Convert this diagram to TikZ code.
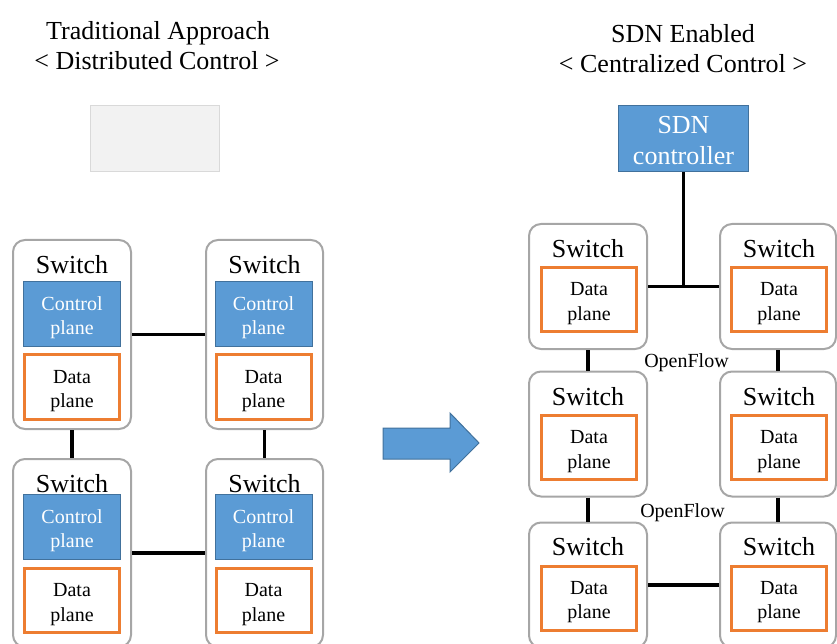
\documentclass[tikz,border=0pt]{standalone}
\usepackage{fontspec}
\setmainfont{Liberation Serif}
\definecolor{sdnblue}{HTML}{5B9BD5}
\definecolor{sdnedge}{HTML}{41719C}
\definecolor{dporange}{HTML}{ED7D31}
\definecolor{swgray}{HTML}{A6A6A6}
\definecolor{holdfill}{HTML}{F2F2F2}
\definecolor{holdedge}{HTML}{D9D9D9}
% two lines, first one set a little lower in its box
\newcommand{\twoline}[3][21.5pt]{\rule{0pt}{#1}#2\\#3}
\begin{document}
\begin{tikzpicture}[x=1pt,y=-1pt,
    switchbox/.style={draw=swgray,line width=2pt,rounded corners=12pt,minimum width=118pt},
    ctrlbox/.style={draw=sdnedge,fill=sdnblue,line width=1pt,text=white,align=center},
    databox/.style={draw=dporange,fill=white,line width=3pt,align=center,minimum width=95pt},
    bigtext/.style={font=\fontsize{26}{30}\selectfont},
    smalltext/.style={font=\fontsize{20}{24.5}\selectfont}]

        \clip (0,0) rectangle (837,644);

        % headings
        \begin{scope}[every node/.style={bigtext,anchor=base}]
          \node (trad)  at (158,39.5) {Traditional Approach};
          \node (dist)  at (157,69.5) {< Distributed Control >};
          \node (sdn)   at (683,42.5) {SDN Enabled};
          \node (cent)  at (683,72.5) {< Centralized Control >};
        \end{scope}

        \node[draw=holdedge,fill=holdfill,line width=1pt,minimum width=129pt,minimum height=66pt] (blank) at (155,138.5) {};
        \node[ctrlbox,bigtext,font=\fontsize{26}{31}\selectfont,minimum width=130pt,minimum height=66pt] (ctrl) at (683.5,138.5) {\twoline[21pt]{SDN}{controller}};

        % switches, distributed
        \begin{scope}[every node/.style={switchbox}]
          \node[minimum height=189pt] (a1) at (72,334.5)   {};
          \node[minimum height=189pt,minimum width=117pt] (a2) at (264.5,334.5) {};
          \node[minimum height=188pt] (a3) at (72,553)     {};
          \node[minimum height=188pt,minimum width=117pt] (a4) at (264.5,553)   {};
        \end{scope}

        % switches, centralized
        \begin{scope}[every node/.style={switchbox,minimum height=125pt}]
          \node (b1) at (588,286.5) {};
          \node[minimum width=116pt] (b2) at (778,286.5) {};
          \node (b3) at (588,434)   {};
          \node[minimum width=116pt] (b4) at (778,434)   {};
          \node (b5) at (588,585)   {};
          \node[minimum width=116pt] (b6) at (778,585)   {};
        \end{scope}

        \begin{scope}[every node/.style={bigtext,anchor=base}]
          \node (la1) at (72,273)    {Switch};
          \node (la2) at (264.5,273) {Switch};
          \node (la3) at (72,492)    {Switch};
          \node (la4) at (264.5,492) {Switch};
          \node (lb1) at (588,257)   {Switch};
          \node (lb2) at (779,257)   {Switch};
          \node (lb3) at (588,405)   {Switch};
          \node (lb4) at (779,405)   {Switch};
          \node (lb5) at (588,555)   {Switch};
          \node (lb6) at (779,555)   {Switch};
        \end{scope}

        \begin{scope}[every node/.style={ctrlbox,smalltext,font=\fontsize{20}{24}\selectfont,minimum width=97pt,minimum height=65pt}]
          \node (ca1) at (72,314)    {\twoline{Control}{plane}};
          \node (ca2) at (263.5,314) {\twoline{Control}{plane}};
          \node (ca3) at (72,527)    {\twoline{Control}{plane}};
          \node (ca4) at (263.5,527) {\twoline{Control}{plane}};
        \end{scope}

        \begin{scope}[every node/.style={databox,smalltext}]
          \node[minimum height=65pt] (da1) at (72,387)      {\twoline{Data}{plane}};
          \node[minimum height=65pt] (da2) at (263.5,387)   {\twoline{Data}{plane}};
          \node[minimum height=64pt] (da3) at (72,600.5)    {\twoline{Data}{plane}};
          \node[minimum height=64pt] (da4) at (263.5,600.5) {\twoline{Data}{plane}};
          \node[minimum height=64pt] (db1) at (589,299.5)   {\twoline{Data}{plane}};
          \node[minimum height=64pt] (db2) at (779,299.5)   {\twoline{Data}{plane}};
          \node[minimum height=64pt] (db3) at (589,447.5)   {\twoline{Data}{plane}};
          \node[minimum height=64pt] (db4) at (779,447.5)   {\twoline{Data}{plane}};
          \node[minimum height=64pt] (db5) at (589,598)     {\twoline{Data}{plane}};
          \node[minimum height=64pt] (db6) at (779,598)     {\twoline{Data}{plane}};
        \end{scope}

        \begin{scope}[every node/.style={smalltext,anchor=base}]
          \node (of1) at (686.5,367) {OpenFlow};
          \node (of2) at (682.5,517) {OpenFlow};
        \end{scope}

        \begin{scope}[every edge/.style={draw,line width=3.5pt}]
          \path (a1) edge (a2);
          \path (a1) edge (a3);
          \path (a2) edge (a4);
          \path (a3) edge (a4);
          \path (b1) edge (b2);
          \path (ctrl) edge (ctrl |- b1);
          \path (b1) edge (b3);
          \path (b2) edge (b4);
          \path (b3) edge (b5);
          \path (b4) edge (b6);
          \path (b5) edge (b6);
        \end{scope}

        % arrow
        \filldraw[draw=sdnedge,fill=sdnblue,line width=1pt]
          (383,428) -- (450,428) -- (450,413) -- (479,443) -- (450,472) -- (450,459) -- (383,459) -- cycle;

      \end{tikzpicture}
\end{document}
